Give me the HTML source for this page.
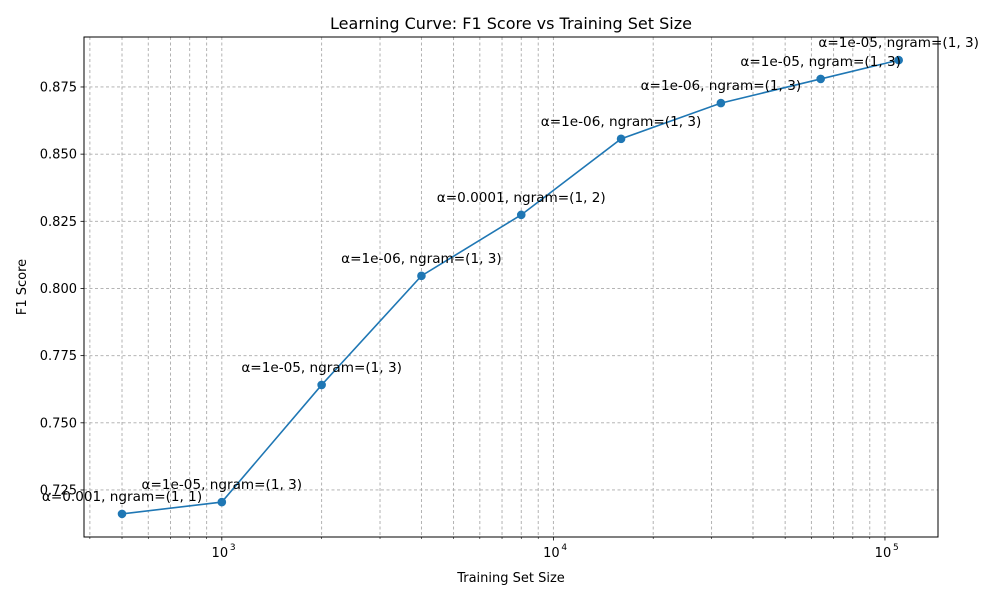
<!DOCTYPE html>
<html><head><meta charset="utf-8"><style>
body{margin:0;background:#fff;font-family:"Liberation Sans","DejaVu Sans",sans-serif;}
svg text{font-family:"DejaVu Sans","Liberation Sans",sans-serif;}
</style></head><body>
<svg id="chart" width="1000" height="600" xmlns="http://www.w3.org/2000/svg">
<rect width="1000" height="600" fill="#fff"/>
<g id="grid"></g>
<g id="axes"></g>
<g id="series"></g>
<g id="labels"></g>
<text x="511" y="29" font-size="16" text-anchor="middle">Learning Curve: F1 Score vs Training Set Size</text>
<text x="511" y="582" font-size="13" text-anchor="middle">Training Set Size</text>
<text transform="translate(26,287) rotate(-90)" font-size="13" text-anchor="middle">F1 Score</text>
</svg>
<script>
const sizes=[500,1000,2000,4000,8000,16000,32000,64000,110000];
const f1=[0.7161,0.7205,0.7641,0.8047,0.8274,0.8557,0.869,0.878,0.885];
const annots=["α=0.001, ngram=(1, 1)","α=1e-05, ngram=(1, 3)","α=1e-05, ngram=(1, 3)","α=1e-06, ngram=(1, 3)","α=0.0001, ngram=(1, 2)","α=1e-06, ngram=(1, 3)","α=1e-06, ngram=(1, 3)","α=1e-05, ngram=(1, 3)","α=1e-05, ngram=(1, 3)"];
const yTicks=[0.725,0.75,0.775,0.8,0.825,0.85,0.875];
const yTickLabels=["0.725","0.750","0.775","0.800","0.825","0.850","0.875"];
const xMajor=[1000,10000,100000];
const xMajorExp=["3","4","5"];
const L=84,R=938,T=37,B=537;
const xMin=Math.log10(384),xMax=5.16,yMin=0.7075,yMax=0.8936;
const sx=v=>L+(Math.log10(v)-xMin)/(xMax-xMin)*(R-L);
const sy=v=>B-(v-yMin)/(yMax-yMin)*(B-T);
const NS="http://www.w3.org/2000/svg";
function mk(p,tag,a){const e=document.createElementNS(NS,tag);for(const k in a)e.setAttribute(k,a[k]);document.getElementById(p).appendChild(e);return e;}
for(let d=2;d<=5;d++){for(let m=1;m<10;m++){const v=m*Math.pow(10,d);const x=sx(v);if(x<L||x>R)continue;
const g=mk('grid','line',{x1:x,x2:x,y1:T,y2:B,stroke:'#aaa','stroke-width':0.9,'stroke-dasharray':'3,2.5'});


const t=mk('axes','line',{x1:x,x2:x,y1:B,y2:B+(m==1?3.5:2),stroke:'#000','stroke-width':m==1?0.8:0.6});

}}
xMajor.forEach((v,i)=>{const x=sx(v);
const t=mk('axes','text',{x:x-2,y:B+20,'font-size':13,'text-anchor':'middle'});t.textContent='10';


const s=mk('axes','text',{x:x+8,y:B+13,'font-size':9});s.textContent=xMajorExp[i];

});
yTicks.forEach((v,i)=>{const y=sy(v);
const g=mk('grid','line',{x1:L,x2:R,y1:y,y2:y,stroke:'#aaa','stroke-width':0.9,'stroke-dasharray':'3,2.5'});


const t=mk('axes','line',{x1:L-3.5,x2:L,y1:y,y2:y,stroke:'#000','stroke-width':0.8});


const l=mk('axes','text',{x:L-7,y:y+4.5,'font-size':13,'text-anchor':'end'});l.textContent=yTickLabels[i];

});
const fr=mk('axes','rect',{x:L,y:T,width:R-L,height:B-T,fill:'none',stroke:'#000','stroke-width':1});


const pts=sizes.map((s,i)=>sx(s)+','+sy(f1[i])).join(' ');
const pl=mk('series','polyline',{points:pts,fill:'none',stroke:'#1f77b4','stroke-width':1.6});


sizes.forEach((s,i)=>{const c=mk('series','circle',{cx:sx(s),cy:sy(f1[i]),r:4.3,fill:'#1f77b4'});


const t=mk('labels','text',{x:sx(s),y:sy(f1[i])-13,'font-size':13.6,'text-anchor':'middle'});t.textContent=annots[i];

});
</script>
</body></html>
